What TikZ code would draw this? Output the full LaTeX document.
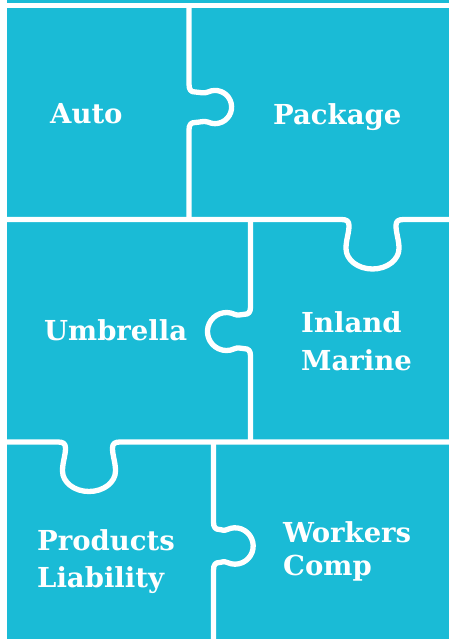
\documentclass[tikz,border=0pt]{standalone}
\usepackage{fontspec}
\setmainfont{DejaVu Serif}
\definecolor{tealA}{RGB}{26,187,214}
\tikzset{
  cut/.style={draw=white, line width=5.3pt, line join=round},
  lbl/.style={text=white, font=\bfseries\fontsize{27.5}{34}\selectfont, inner sep=0pt, anchor=base west}
}
\begin{document}
\begin{tikzpicture}[x=1pt,y=-1pt]
\useasboundingbox (0,0) rectangle (449,639);
\fill[white] (0,0) rectangle (449,639);
\fill[tealA] (6.7,0) rectangle (449,639);
% top cut
\draw[cut] (6.7,5.5) -- (452,5.5);
% row 1 vertical with right knob
\draw[cut] (189,5.5) -- (189,84) .. controls (189,90) and (191,92) .. (195,92)
  .. controls (199,92) and (204.1,94) .. (208,92) arc(-115:115:16.6)
  .. controls (204.1,120.5) and (199,122.5) .. (195,122.5)
  .. controls (191,122.5) and (189,124.5) .. (189,130) -- (189,219.5);
% row1/row2 horizontal with down knob
\draw[cut] (6.7,219.5) -- (341.5,219.5) .. controls (346.5,219.5) and (349,221) .. (349,225.5)
  .. controls (349,233.5) and (346,239.5) .. (346,248.5) arc(180:0:26.5 and 20.5)
  .. controls (399,239.5) and (396,233.5) .. (396,225.5)
  .. controls (396,221) and (398.5,219.5) .. (403.5,219.5) -- (452,219.5);
% row 2 vertical with left knob
\draw[cut] (250.5,219.5) -- (250.5,307) .. controls (250.5,312.3) and (248.5,314.3) .. (244.5,314.3)
  .. controls (241,314.3) and (238.1,316) .. (234.5,314.3) arc(-65:-295:19)
  .. controls (238.1,347) and (241,348.7) .. (244.5,348.7)
  .. controls (248.5,348.7) and (250.5,350.7) .. (250.5,356) -- (250.5,442);
% row2/row3 horizontal with down knob
\draw[cut] (6.7,442) -- (58,442) .. controls (63,442) and (65.5,443.5) .. (65.5,448)
  .. controls (65.5,456) and (62.5,462) .. (62.5,471) arc(180:0:26.5 and 20.5)
  .. controls (115.5,462) and (112.5,456) .. (112.5,448)
  .. controls (112.5,443.5) and (115,442) .. (120,442) -- (452,442);
% row 3 vertical with right knob
\draw[cut] (213.5,442) -- (213.5,522) .. controls (213.5,527.5) and (215.5,529.5) .. (219.5,529.5)
  .. controls (221.5,529.5) and (223.7,531.2) .. (227.3,529.5) arc(-115:115:18.2)
  .. controls (223.7,560.8) and (221.5,562.5) .. (219.5,562.5)
  .. controls (215.5,562.5) and (213.5,564.5) .. (213.5,570) -- (213.5,642);
% labels
\node[lbl] (auto) at (50,124) {Auto};
\node[lbl] (package) at (273,124.5) {Package};
\node[lbl] (umbrella) at (44,340) {Umbrella};
\node[lbl] (inland) at (301,332) {Inland};
\node[lbl] (marine) at (301,370) {Marine};
\node[lbl] (products) at (37,550) {Products};
\node[lbl] (liability) at (37,587) {Liability};
\node[lbl] (workers) at (283,542) {Workers};
\node[lbl] (comp) at (283,575) {Comp};
\end{tikzpicture}
\end{document}
